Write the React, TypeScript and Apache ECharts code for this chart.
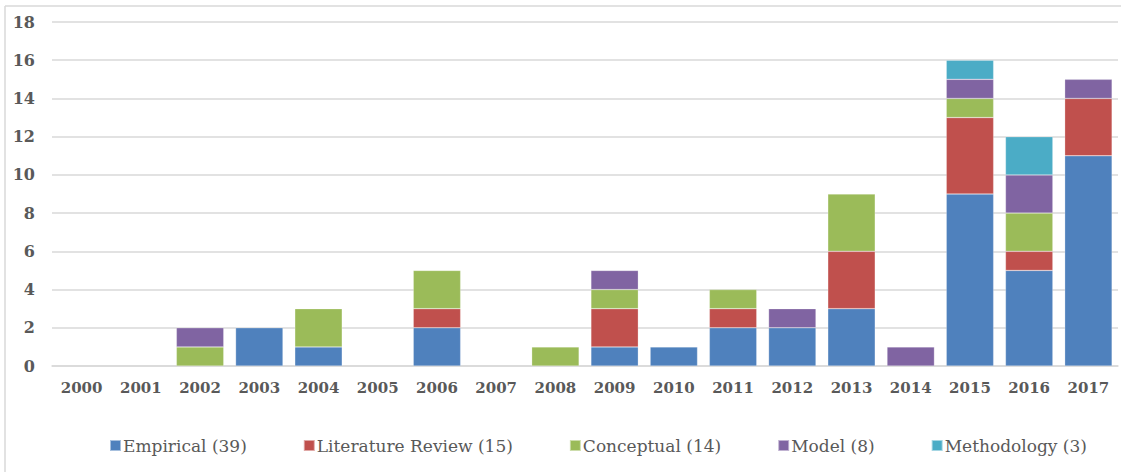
import React, { useEffect, useRef } from "react";
import * as echarts from "echarts";

const years = ["2000","2001","2002","2003","2004","2005","2006","2007","2008","2009","2010","2011","2012","2013","2014","2015","2016","2017"];
const empirical = [0,0,0,2,1,0,2,0,0,1,1,2,2,3,0,9,5,11];
const literature = [0,0,0,0,0,0,1,0,0,2,0,1,0,3,0,4,1,3];
const conceptual = [0,0,1,0,2,0,2,0,1,1,0,1,0,3,0,1,2,0];
const model = [0,0,1,0,0,0,0,0,0,1,0,0,1,0,1,1,2,1];
const methodology = [0,0,0,0,0,0,0,0,0,0,0,0,0,0,0,1,2,0];
const seriesNames = ["Empirical (39)","Literature Review (15)","Conceptual (14)","Model (8)","Methodology (3)"];
const seriesData = [empirical, literature, conceptual, model, methodology];
const colors = ["#4F81BD","#C0504D","#9BBB59","#8064A2","#4BACC6"];

const serif = "DejaVu Serif";

export default function App() {
  const ref = useRef<HTMLDivElement>(null);
  useEffect(() => {
    document.body.style.margin = "0";
    const chart = echarts.init(ref.current!, null, { renderer: "svg" });
    chart.setOption({
      animation: false,
      backgroundColor: "#fff",
      textStyle: { fontFamily: serif },
      grid: { left: 52, right: 13, top: 22, bottom: 106 },
      legend: {
        bottom: 13,
        left: 104,
        itemGap: 56,
        itemWidth: 11,
        itemHeight: 11,
        icon: "rect",
        textStyle: { fontFamily: serif, fontSize: 17, color: "#595959", padding: [0, 0, 0, -3] },
        data: seriesNames,
      },
      xAxis: {
        type: "category",
        data: years,
        axisLine: { lineStyle: { color: "#d9d9d9", width: 1.5 } },
        axisTick: { show: false },
        axisLabel: { interval: 0, fontFamily: serif, fontSize: 15, fontWeight: "bold", color: "#595959", margin: 14 },
      },
      yAxis: {
        type: "value",
        min: 0,
        max: 18,
        interval: 2,
        axisLine: { show: false },
        axisTick: { show: false },
        axisLabel: { fontFamily: serif, fontSize: 16, fontWeight: "bold", color: "#595959", margin: 17 },
        splitLine: { lineStyle: { color: "#d9d9d9", width: 1.5 } },
      },
      series: seriesNames.map((name, i) => ({
        name,
        type: "bar",
        stack: "total",
        barWidth: "80%",
        data: seriesData[i].map((v) => (v === 0 ? null : v)),
        itemStyle: { color: colors[i], borderColor: "rgba(255,255,255,0.5)", borderWidth: 0.5 },
      })),
      graphic: [
        { type: "line", shape: { x1: 5, y1: 6, x2: 1121, y2: 6 }, style: { stroke: "#d9d9d9", lineWidth: 1.5 } },
        { type: "line", shape: { x1: 5, y1: 6, x2: 5, y2: 472 }, style: { stroke: "#d9d9d9", lineWidth: 1.5 } },
      ],
    });
    return () => chart.dispose();
  }, []);
  return <div ref={ref} style={{ width: 1131, height: 472 }} />;
}
